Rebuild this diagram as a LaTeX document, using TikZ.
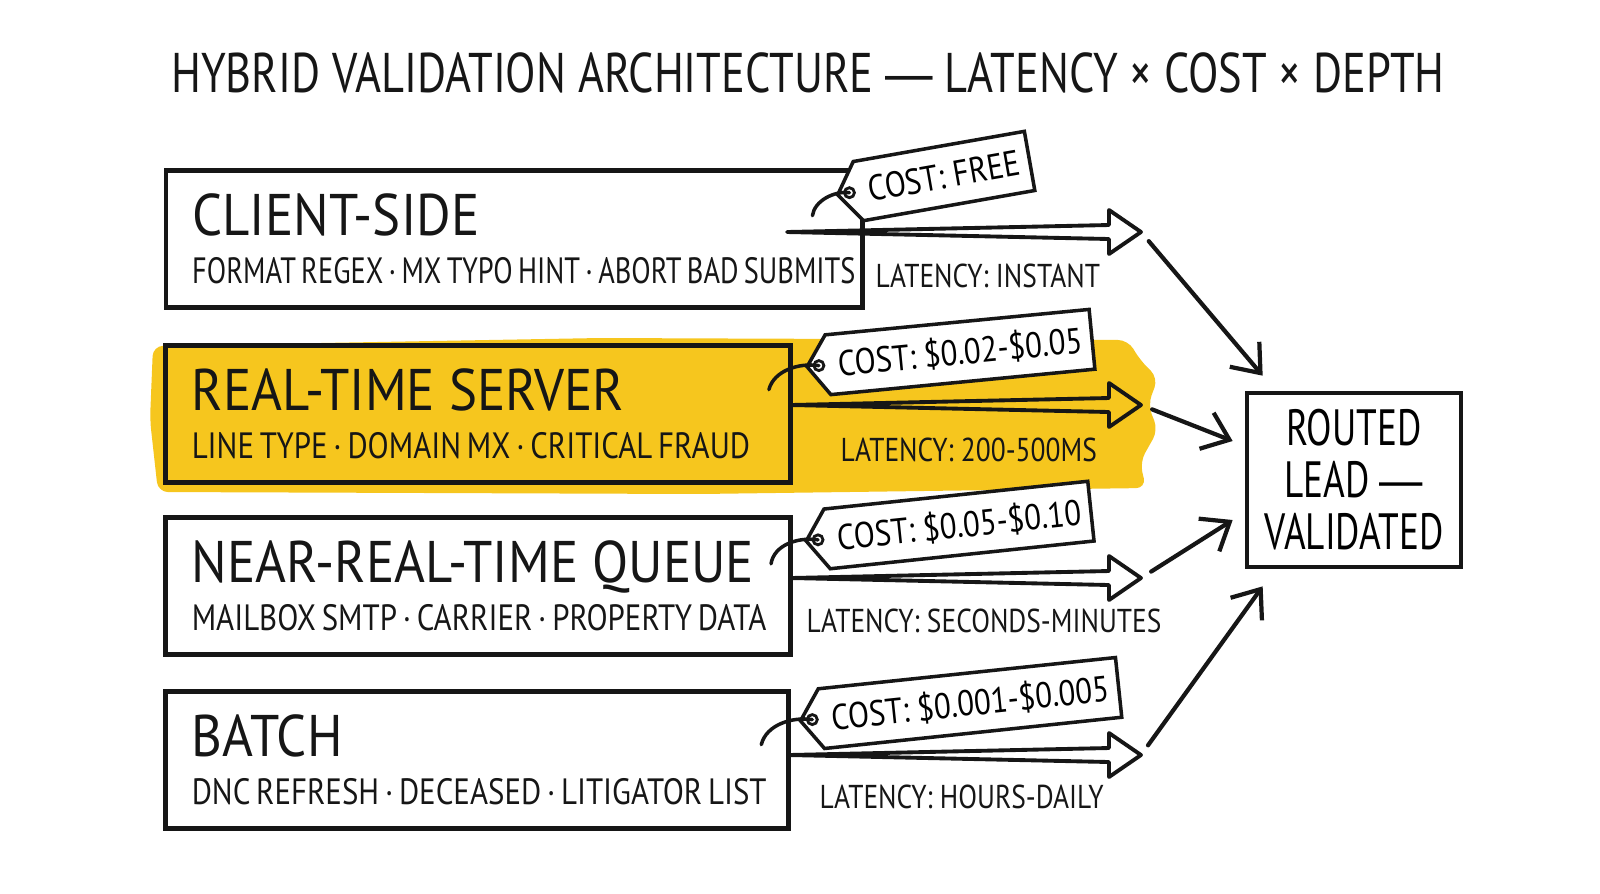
\documentclass[tikz,border=0pt]{standalone}
\usepackage{fontspec}
\setmainfont[FakeStretch=0.83]{PT Sans}
\newfontfamily\headfont[FakeStretch=0.795]{PT Sans}
\newfontfamily\stagefont[FakeStretch=0.90]{PT Sans}
\newfontfamily\detailfont[FakeStretch=0.845, WordSpace=0.7]{PT Sans}
\newfontfamily\tightdetail[FakeStretch=0.775, WordSpace=0.7]{PT Sans}
\newfontfamily\tagfont[FakeStretch=0.86]{PT Sans}
\newfontfamily\leadfont[FakeStretch=0.73]{PT Sans}
\newfontfamily\dashfont[FakeStretch=0.85]{Liberation Sans}
\usetikzlibrary{arrows.meta, positioning, calc, shapes.symbols}
\definecolor{markeryellow}{RGB}{246,198,30}
\definecolor{inkblack}{RGB}{22,22,22}

% hollow block arrow from a stage to its hub
\newcommand{\fatarrow}[2]{%
  \draw[fatline] (#1) -- ($(#2)+(-32,-7)$) -- ($(#2)+(-32,-22)$) -- (#2)
    -- ($(#2)+(-32,22)$) -- ($(#2)+(-32,7)$) -- cycle;}

\begin{document}
\begin{tikzpicture}[
    x=0.01cm, y=-0.01cm,
    stage/.style={draw=inkblack, line width=1.3pt, minimum height=1.37cm},
    stagetext/.style={anchor=west, inner sep=0pt, align=left, text=inkblack, font=\detailfont\fontsize{10.4}{12.5}\selectfont},
    latency/.style={anchor=west, inner sep=0pt, text=inkblack, font=\fontsize{9.4}{11}\selectfont},
    pricetag/.style={signal, signal to=west, signal pointer angle=110, draw=inkblack, line width=1pt, fill=white, inner xsep=0.1cm, minimum height=0.6cm, font=\tagfont\fontsize{10.2}{12}\selectfont},
    tagring/.style={draw=inkblack, line width=0.8pt},
    tagstring/.style={draw=inkblack, line width=1pt, line cap=round},
    fatline/.style={draw=inkblack, line width=1.1pt, line join=round},
    flow/.style={draw=inkblack, line width=1.2pt, line cap=round, shorten <=0.12cm, -{Straight Barb[length=7pt, width=11pt]}}
]
    \useasboundingbox (0,0) rectangle (1600,893);

    % Title
    \node[font=\headfont\fontsize{15.9}{19}\selectfont, text=inkblack] (title) at (808,73) {HYBRID VALIDATION ARCHITECTURE {\dashfont —} LATENCY × COST × DEPTH};

    % Marker highlight behind the real-time row
    \fill[markeryellow, rounded corners=0.1cm] (153,346) -- (600,338) -- (1128,340) -- (1140,360) -- (1158,378) -- (1148,405) -- (1158,430) -- (1140,462) -- (1146,488) -- (700,494) -- (158,492) -- (150,420) -- cycle;

    % Stages
    \node[stage, minimum width=6.96cm] (client) at (514,239) {};
    \node[stage, minimum width=6.25cm] (realtime) at (478,414) {};
    \node[stage, minimum width=6.25cm] (queue) at (478,586) {};
    \node[stage, minimum width=6.23cm] (batch) at (477,760) {};

    \node[stagetext] (clientlabel) at ([xshift=0.28cm]client.west)
        {{\stagefont\fontsize{16.7}{20}\selectfont CLIENT-SIDE}\\[1pt]{\tightdetail FORMAT REGEX · MX TYPO HINT · ABORT BAD SUBMITS}};
    \node[stagetext] (realtimelabel) at ([xshift=0.28cm]realtime.west)
        {{\stagefont\fontsize{16.7}{20}\selectfont REAL-TIME SERVER}\\[1pt]LINE TYPE · DOMAIN MX · CRITICAL FRAUD};
    \node[stagetext] (queuelabel) at ([xshift=0.28cm]queue.west)
        {{\stagefont\fontsize{16.7}{20}\selectfont NEAR-REAL-TIME QUEUE}\\[1pt]MAILBOX SMTP · CARRIER · PROPERTY DATA};
    \node[stagetext] (batchlabel) at ([xshift=0.28cm]batch.west)
        {{\stagefont\fontsize{16.7}{20}\selectfont BATCH}\\[1pt]DNC REFRESH · DECEASED · LITIGATOR LIST};

    % Result
    \node[draw=inkblack, line width=1.3pt, minimum width=2.14cm, minimum height=1.74cm, align=center, font=\leadfont\fontsize{14.5}{14.8}\selectfont] (routed) at (1354,480)
        {ROUTED\\LEAD {\dashfont —}\\VALIDATED};

    % Block arrows
    \coordinate (s1) at (787,232);  \coordinate (h1) at (1141,232);
    \coordinate (s2) at (791,405);  \coordinate (h2) at (1141,405);
    \coordinate (s3) at (791,578);  \coordinate (h3) at (1141,578);
    \coordinate (s4) at (789,755);  \coordinate (h4) at (1141,755);
    \fatarrow{s1}{h1}
    \fatarrow{s2}{h2}
    \fatarrow{s3}{h3}
    \fatarrow{s4}{h4}

    % Latency labels
    \node[latency] (lat1) at (875,276) {LATENCY: INSTANT};
    \node[latency] (lat2) at (840,450) {LATENCY: 200-500MS};
    \node[latency] (lat3) at (806,621) {LATENCY: SECONDS-MINUTES};
    \node[latency] (lat4) at (819,797) {LATENCY: HOURS-DAILY};

    % Cost tags
    \node[pricetag, rotate=10] (tag1) at (944,176) {COST: FREE};
    \node[pricetag, rotate=5.5] (tag2) at (960,352) {COST: \$0.02-\$0.05};
    \node[pricetag, rotate=6] (tag3) at (959,525) {COST: \$0.05-\$0.10};
    \node[pricetag, rotate=6] (tag4) at (970,703) {COST: \$0.001-\$0.005};
    \coordinate (k1) at ($(tag1.west)!0.14cm!(tag1.east)$);
    \coordinate (k2) at ($(tag2.west)!0.14cm!(tag2.east)$);
    \coordinate (k3) at ($(tag3.west)!0.14cm!(tag3.east)$);
    \coordinate (k4) at ($(tag4.west)!0.14cm!(tag4.east)$);
    \draw[tagring] (k1) circle[radius=0.05cm];
    \draw[tagring] (k2) circle[radius=0.05cm];
    \draw[tagring] (k3) circle[radius=0.05cm];
    \draw[tagring] (k4) circle[radius=0.05cm];
    \draw[tagstring] (k1) .. controls ($(k1)+(-15,-2)$) and ($(k1)+(-35,8)$) .. ($(k1)+(-37,23)$);
    \draw[tagstring] (k2) .. controls ($(k2)+(-20,-3)$) and ($(k2)+(-45,5)$) .. ($(k2)+(-50,24)$);
    \draw[tagstring] (k3) .. controls ($(k3)+(-20,-3)$) and ($(k3)+(-44,5)$) .. ($(k3)+(-47,24)$);
    \draw[tagstring] (k4) .. controls ($(k4)+(-20,-3)$) and ($(k4)+(-46,5)$) .. ($(k4)+(-51,25)$);

    % Into the routed lead
    \draw[flow] (h1) -- ([shift={(18,-15)}]routed.north west);
    \draw[flow] (h2) -- ([shift={(-12,-39)}]routed.west);
    \draw[flow] (h3) -- ([shift={(-12,40)}]routed.west);
    \draw[flow] (h4) -- ([shift={(18,17)}]routed.south west);
\end{tikzpicture}
\end{document}
